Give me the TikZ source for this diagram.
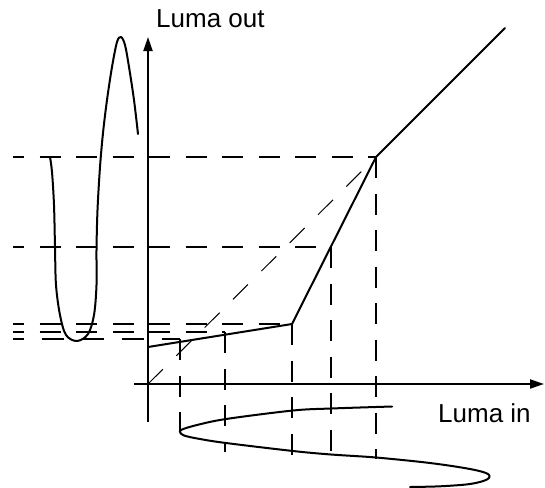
\documentclass[tikz,border=0pt]{standalone}
\usepackage{fontspec}
\setmainfont{Liberation Sans}
\usetikzlibrary{arrows.meta}
\begin{document}
\begin{tikzpicture}[x=1pt,y=-1pt,
  axisline/.style={line width=2pt,-{Triangle[length=14pt,width=9pt]}},
  curveline/.style={line width=2pt,line join=round,line cap=round},
  guide/.style={line width=2pt,dash pattern=on 21pt off 15.5pt},
  thinguide/.style={line width=1pt,dash pattern=on 21pt off 19pt},
  lbl/.style={inner sep=0pt,font=\fontsize{26}{30}\selectfont}]
\useasboundingbox (0,0) rectangle (545,487);
% key points
\coordinate (O) at (148,384);
\coordinate (ytop) at (148,37);
\coordinate (ybot) at (148,422);
\coordinate (xleft) at (134,384);
\coordinate (xright) at (544,384);
\coordinate (t0) at (148,347);
\coordinate (t1) at (292,324);
\coordinate (t2) at (331,247);
\coordinate (t3) at (376,157);
\coordinate (t4) at (505,28);
% left ends of horizontal guides
\coordinate (h1) at (13,157);
\coordinate (h2) at (13,247);
\coordinate (h3) at (13,324);
\coordinate (h4) at (13,332);
\coordinate (h5) at (13,339);
\coordinate (p1) at (225,332);
\coordinate (p2) at (180,339);
% lower ends of vertical guides
\coordinate (v1) at (180,432);
\coordinate (v2) at (225,452);
\coordinate (v3) at (292,460);
\coordinate (v4) at (331,460);
\coordinate (v5) at (376,459);
% guides
\draw[guide,dash phase=10pt] (h1) -- (t3);
\draw[guide,dash phase=10pt] (h2) -- (t2);
\draw[guide,dash phase=10pt] (h3) -- (t1);
\draw[guide,dash phase=10pt] (h4) -- (p1);
\draw[guide,dash pattern=on 22.5pt off 17.5pt,dash phase=11.5pt] (h5) -- (p2);
\draw[guide] (p2) -- (v1);
\draw[guide] (p1) -- (v2);
\draw[guide] (t1) -- (v3);
\draw[guide] (t2) -- (v4);
\draw[guide] (t3) -- (v5);
\draw[thinguide] (O) -- (t3);
% axes
\draw[axisline] (ybot) -- (ytop);
\draw[axisline] (xleft) -- (xright);
% transfer curve
\draw[curveline] (t0) -- (t1) -- (t3) -- (t4);
% output waveform
\draw[curveline] plot[smooth,tension=0.55] coordinates {
 (138,134) (134,100) (129,67) (125,45) (121,37) (117,42) (112,67) (107,100)
 (103,133) (100,167) (97.5,210) (96.5,250) (96.5,285) (94,315) (88,334)
 (77,341) (66,335) (60,315) (56,285) (55,247) (54,205) (52,172) (50,157)};
% input waveform
\draw[curveline] plot[smooth,tension=0.55] coordinates {
 (392,406.5) (331,408.5) (293,410.5) (226,419) (197,425) (182,429.5) (180,432)
 (184,435.5) (200,439) (226,443) (293,451) (331,454.5) (376,457.5) (430,463)
 (470,469) (488,474) (487,479.5) (470,484) (440,486.3) (410,487)};
% labels
\node[lbl,anchor=base west] (lout) at (156,28) {Luma out};
\node[lbl,anchor=base west] (lin) at (438,422) {Luma in};
\end{tikzpicture}
\end{document}
